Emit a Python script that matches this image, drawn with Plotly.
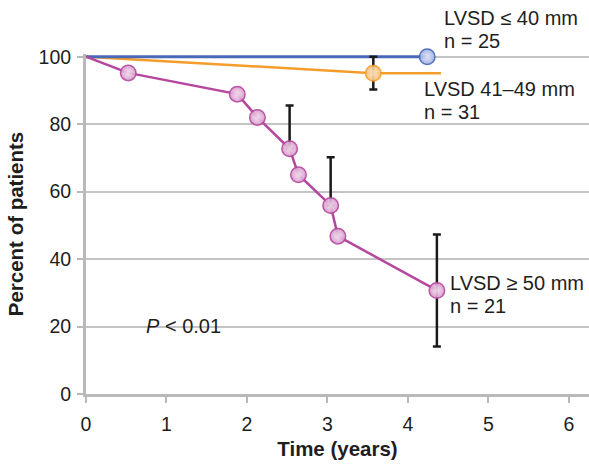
import plotly.graph_objects as go

# Survival curves by LV systolic dimension group
small_x = [0, 4.24]
small_y = [100, 100]

mid_x = [0, 3.57, 4.41]
mid_y = [100, 95.1, 95.1]
mid_mark_x = [3.57]
mid_mark_y = [95.1]
mid_err_up = [4.9]
mid_err_down = [4.8]

large_x = [0, 0.525, 1.88, 2.13, 2.53, 2.64, 3.04, 3.13, 4.36]
large_y = [100, 95.2, 88.9, 82.0, 72.7, 65.0, 55.9, 46.8, 30.7]
large_err_x = [2.53, 3.04, 4.36]
large_err_y = [72.7, 55.9, 30.7]
large_err_up = [12.8, 14.3, 16.6]
large_err_down = [0, 0, 16.6]

x_ticks = [0, 1, 2, 3, 4, 5, 6]
y_ticks = [0, 20, 40, 60, 80, 100]

BLUE = "#4868b8"
ORANGE = "#f59d2a"
PURPLE = "#b5489e"
FONT = "Liberation Sans, Arial, sans-serif"
INK = "#1e1e1e"

fig = go.Figure()

# lines
fig.add_trace(go.Scatter(x=mid_x, y=mid_y, mode="lines",
                         line=dict(color=ORANGE, width=2.5), cliponaxis=False))
fig.add_trace(go.Scatter(x=small_x, y=small_y, mode="lines",
                         line=dict(color=BLUE, width=3), cliponaxis=False))
fig.add_trace(go.Scatter(x=large_x, y=large_y, mode="lines",
                         line=dict(color=PURPLE, width=2.5), cliponaxis=False))

# error bars
err_style = dict(type="data", symmetric=False, color="#1a1a1a", thickness=2.5, width=4)
fig.add_trace(go.Scatter(x=mid_mark_x, y=mid_mark_y, mode="markers",
                         marker=dict(size=1, opacity=0),
                         error_y=dict(array=mid_err_up, arrayminus=mid_err_down, **err_style),
                         cliponaxis=False))
fig.add_trace(go.Scatter(x=large_err_x, y=large_err_y, mode="markers",
                         marker=dict(size=1, opacity=0),
                         error_y=dict(array=large_err_up, arrayminus=large_err_down, **err_style),
                         cliponaxis=False))

# markers
def dots(xs, ys, edge, fill, center):
    return go.Scatter(
        x=xs, y=ys, mode="markers", cliponaxis=False,
        marker=dict(size=15.5, color=fill, opacity=0.92,
                    line=dict(color=edge, width=1.5),
                    gradient=dict(type="radial", color=center)))

fig.add_trace(dots(mid_mark_x, mid_mark_y, ORANGE, "#f8bf78", "#fde8cc"))
fig.add_trace(dots(small_x[1:], small_y[1:], BLUE, "#a0b0e2", "#e0e6f7"))
fig.add_trace(dots(large_x[1:], large_y[1:], PURPLE, "#d79acb", "#f5e0f1"))

# group labels (one annotation per line of text)
txt = dict(family=FONT, size=20, color=INK)
notes = [
    (4.435, 1.106, "LVSD ≤ 40 mm"),
    (4.435, 1.038, "n = 25"),
    (4.186, 0.897, "LVSD 41–49 mm"),
    (4.186, 0.829, "n = 31"),
    (4.509, 0.326, "LVSD ≥ 50 mm"),
    (4.509, 0.259, "n = 21"),
    (0.733, 0.200, "<i>P</i> &lt; 0.01"),
]
for nx, ny, t in notes:
    fig.add_annotation(x=nx, y=ny, xref="x", yref="paper", text=t, showarrow=False,
                       xanchor="left", yanchor="middle", align="left", font=txt,
                       borderpad=0)

axis_common = dict(
    showline=True, linecolor="#b9b9b9", linewidth=3,
    ticks="outside", ticklen=6, tickwidth=1.5, tickcolor="#b9b9b9",
    tickfont=dict(family=FONT, size=19.5, color=INK),
    zeroline=False,
)
title_font = dict(family=FONT, size=20.5, color=INK)

fig.update_layout(
    width=589, height=468,
    margin=dict(l=86, r=0, t=54, b=74),
    paper_bgcolor="white", plot_bgcolor="white",
    showlegend=False,
    xaxis=dict(range=[0, 6.25], tickvals=x_ticks, showgrid=False,
               ticklabelstandoff=5,
               title=dict(text="<b>Time (years)</b>", font=title_font, standoff=8),
               **axis_common),
    yaxis=dict(range=[0, 100.8], tickvals=y_ticks, showgrid=True,
               gridcolor="#c4c4c4", gridwidth=1.5, ticklabelstandoff=2,
               title=dict(text="<b>Percent of patients</b>", font=title_font, standoff=10),
               **axis_common),
)

fig.write_html("out.html")
